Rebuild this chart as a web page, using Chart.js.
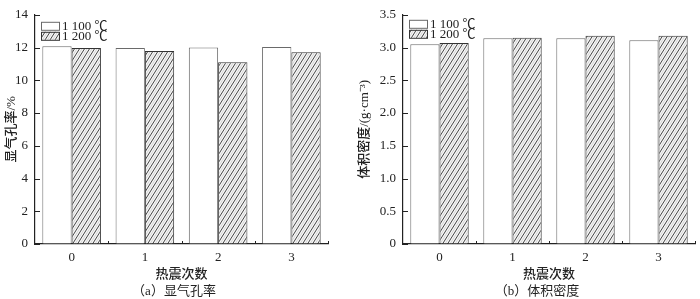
<!DOCTYPE html>
<html><head><meta charset="utf-8">
<script src="https://cdn.jsdelivr.net/npm/chart.js@4"></script>
<style>
html,body{margin:0;padding:0;background:#fff;}
#wrap{position:relative;width:700px;height:299px;overflow:hidden;}
.panel{position:absolute;top:0;width:350px;height:299px;}
.panel canvas{position:absolute;left:0;top:0;}
.cap{position:absolute;top:283px;font-size:13px;line-height:16px;font-family:"Liberation Serif","Noto Sans CJK SC",serif;color:#222;white-space:nowrap;transform:translateX(-50%);}
</style></head><body>
<div id="wrap">
  <div class="panel" style="left:0"><canvas id="ca" width="350" height="299"></canvas><div class="cap" style="left:174px">（a）显气孔率</div></div>
  <div class="panel" style="left:350px"><canvas id="cb" width="350" height="299"></canvas><div class="cap" style="left:187px">（b）体积密度</div></div>
</div>
<script>
// ---- data ----
const categories = ['0', '1', '2', '3'];
const seriesNames = ['1 100 ℃', '1 200 ℃'];
const porosity1100 = [12.08, 11.97, 12.01, 12.04];
const porosity1200 = [11.97, 11.79, 11.10, 11.71];
const density1100 = [3.05, 3.14, 3.14, 3.11];
const density1200 = [3.07, 3.15, 3.18, 3.18];
const porosityTicks = [0, 2, 4, 6, 8, 10, 12, 14];
const porosityTickLabels = ['0', '2', '4', '6', '8', '10', '12', '14'];
const densityTicks = [0, 0.5, 1.0, 1.5, 2.0, 2.5, 3.0, 3.5];
const densityTickLabels = ['0', '0.5', '1.0', '1.5', '2.0', '2.5', '3.0', '3.5'];
const xTitle = '热震次数';
const yTitleA = '显气孔率/%';
const yTitleB = '体积密度/(g·cm⁻³)';

const SERIF = '"Liberation Serif", "Noto Sans CJK SC", serif';
const CJK = '"Noto Sans CJK SC", sans-serif';
const INK = '#222';

function makeHatch() {
  const w = 5, h = 8;
  const c = document.createElement('canvas');
  c.width = w; c.height = h;
  const g = c.getContext('2d');
  g.fillStyle = '#f6f6f6';
  g.fillRect(0, 0, w, h);
  g.lineWidth = 1;
  g.strokeStyle = '#d4d4d4';
  g.beginPath(); g.moveTo(-w + 2.5, 2 * h); g.lineTo(2 * w + 2.5, -h); g.stroke();
  g.beginPath(); g.moveTo(-w - 2.5, 2 * h); g.lineTo(2 * w - 2.5, -h); g.stroke();
  g.strokeStyle = '#444';
  g.beginPath(); g.moveTo(-w, 2 * h); g.lineTo(2 * w, -h); g.stroke();
  g.beginPath(); g.moveTo(-2 * w, 2 * h); g.lineTo(w, -h); g.stroke();
  g.beginPath(); g.moveTo(0, 2 * h); g.lineTo(3 * w, -h); g.stroke();
  return g.createPattern(c, 'repeat');
}
const hatch = makeHatch();

const inwardTicks = {
  id: 'inwardTicks',
  afterDatasetsDraw(chart) {
    const { ctx, chartArea: a, scales: { x, y } } = chart;
    ctx.save();
    ctx.strokeStyle = INK; ctx.lineWidth = 1;
    y.ticks.forEach(t => {
      const py = Math.round(y.getPixelForValue(t.value)) + 0.5;
      ctx.beginPath(); ctx.moveTo(a.left, py); ctx.lineTo(a.left + 5, py); ctx.stroke();
    });
    for (let i = 1; i <= x.ticks.length; i++) {
      const prev = x.getPixelForTick(i - 1);
      const px = Math.round(prev + (x.width / x.ticks.length) / 2) + 0.5;
      ctx.beginPath(); ctx.moveTo(px, a.bottom); ctx.lineTo(px, a.bottom - 3); ctx.stroke();
    }
    ctx.restore();
  }
};

const innerLegend = {
  id: 'innerLegend',
  afterDatasetsDraw(chart, args, opts) {
    const { ctx, chartArea: a } = chart;
    ctx.save();
    const x0 = a.left + 6, bw = 18, bh = 8;
    chart.data.datasets.forEach((ds, i) => {
      const y0 = a.top + opts.top + i * (bh + 2);
      ctx.fillStyle = ds.backgroundColor;
      ctx.fillRect(x0, y0, bw, bh);
      ctx.strokeStyle = ds.borderColor; ctx.lineWidth = 1;
      ctx.strokeRect(x0 + 0.5, y0 + 0.5, bw, bh);
      ctx.fillStyle = INK;
      ctx.font = '13px ' + SERIF;
      ctx.textBaseline = 'middle';
      ctx.fillText(ds.label, x0 + bw + 3, y0 + bh / 2 + 1);
    });
    ctx.restore();
  }
};

function makeChart(id, d1, d2, ticks, tickLabels, yTitle, yMax, yWidth, padRight, titlePad, legendTop) {
  return new Chart(document.getElementById(id), {
    type: 'bar',
    data: {
      labels: categories,
      datasets: [
        { label: seriesNames[0], data: d1, backgroundColor: '#ffffff', borderColor: '#6a6a6a', borderWidth: 1 },
        { label: seriesNames[1], data: d2, backgroundColor: hatch, borderColor: '#333333', borderWidth: 1 }
      ]
    },
    options: {
      responsive: false,
      animation: false,
      barPercentage: 1.0,
      categoryPercentage: 0.8,
      layout: { padding: { top: 8, right: padRight, bottom: 0, left: 0 } },
      plugins: {
        legend: { display: false },
        tooltip: { enabled: false },
        innerLegend: { top: legendTop }
      },
      scales: {
        x: {
          grid: { display: true, drawOnChartArea: false, drawTicks: false },
          border: { display: true, color: INK, width: 1.2 },
          ticks: { font: { family: SERIF, size: 13 }, color: INK, padding: 6 },
          title: { display: true, text: xTitle, font: { family: CJK, size: 13, weight: '500' }, color: INK, padding: { top: 0, bottom: 18 } },
          afterFit: s => { s.height = 55; }
        },
        y: {
          min: 0, max: yMax,
          grid: { display: true, drawOnChartArea: false, drawTicks: false },
          border: { display: true, color: INK, width: 1.2 },
          afterBuildTicks: s => { s.ticks = ticks.map(v => ({ value: v })); },
          ticks: { font: { family: SERIF, size: 13 }, color: INK, padding: 7, callback: (v, i) => tickLabels[i] },
          title: { display: true, text: yTitle, font: { family: SERIF, size: 13, weight: '500' }, color: INK, padding: { top: titlePad, bottom: 0 } },
          afterFit: s => { s.width = yWidth; }
        }
      }
    },
    plugins: [inwardTicks, innerLegend]
  });
}

makeChart('ca', porosity1100, porosity1200, porosityTicks, porosityTickLabels, yTitleA, 14, 35, 22, 4, 7);
makeChart('cb', density1100, density1200, densityTicks, densityTickLabels, yTitleB, 3.5, 53, 5, 7, 5);
</script>
</body></html>
